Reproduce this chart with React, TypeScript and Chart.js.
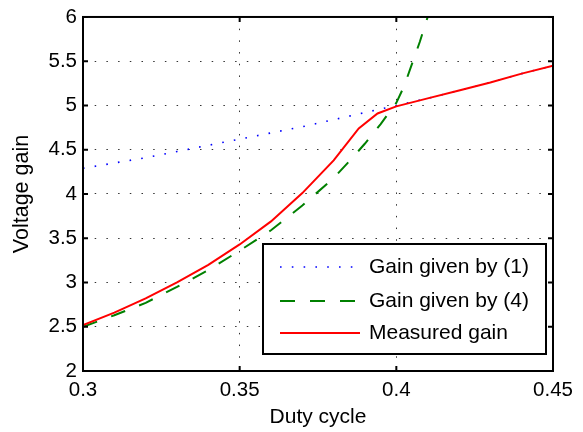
import React, { useEffect, useRef } from "react";
import { Chart, registerables } from "chart.js";

Chart.register(...registerables);

const xTickValues = [0.3, 0.35, 0.4, 0.45];
const xTickLabels = ["0.3", "0.35", "0.4", "0.45"];
const yTickValues = [2, 2.5, 3, 3.5, 4, 4.5, 5, 5.5, 6];
const yTickLabels = ["2", "2.5", "3", "3.5", "4", "4.5", "5", "5.5", "6"];

const seriesLabels = ["Gain given by (1)", "Gain given by (4)", "Measured gain"];

const dutyEq1 = [0.3, 0.31, 0.32, 0.33, 0.34, 0.35, 0.36, 0.37, 0.38, 0.39, 0.4, 0.41, 0.42, 0.43, 0.44, 0.45];
const gainEq1 = [4.29, 4.35, 4.41, 4.48, 4.55, 4.62, 4.69, 4.76, 4.84, 4.92, 5.0, 5.08, 5.17, 5.26, 5.36, 5.45];

const dutyEq4 = [0.3, 0.31, 0.32, 0.33, 0.34, 0.35, 0.36, 0.37, 0.38, 0.385, 0.39, 0.395, 0.4, 0.4025, 0.405, 0.4075, 0.41];
const gainEq4 = [2.5, 2.63, 2.77, 2.95, 3.14, 3.36, 3.59, 3.87, 4.18, 4.37, 4.57, 4.79, 5.03, 5.22, 5.47, 5.72, 6.0];

const dutyMeasured = [0.3, 0.31, 0.32, 0.33, 0.34, 0.35, 0.36, 0.37, 0.38, 0.388, 0.394, 0.4, 0.41, 0.42, 0.43, 0.44, 0.45];
const gainMeasured = [2.52, 2.66, 2.82, 3.0, 3.2, 3.43, 3.69, 4.01, 4.38, 4.74, 4.91, 4.99, 5.08, 5.17, 5.26, 5.36, 5.45];

const FONT = "'Liberation Sans', Arial, Helvetica, sans-serif";

const toPoints = (xs: number[], ys: number[]) => xs.map((x, i) => ({ x, y: ys[i] }));

const framePlugin = {
  id: "matlabFrame",
  afterDatasetsDraw(chart: any) {
    const { ctx, chartArea } = chart;
    const { left, right, top, bottom } = chartArea;
    const xs = chart.scales.x;
    const ys = chart.scales.y;
    const tl = 5;
    ctx.save();
    ctx.strokeStyle = "#000";
    ctx.lineWidth = 2;
    ctx.setLineDash([]);
    ctx.beginPath();
    xTickValues.forEach((v) => {
      const px = xs.getPixelForValue(v);
      ctx.moveTo(px, bottom);
      ctx.lineTo(px, bottom - tl);
      ctx.moveTo(px, top);
      ctx.lineTo(px, top + tl);
    });
    yTickValues.forEach((v) => {
      const py = ys.getPixelForValue(v);
      ctx.moveTo(left, py);
      ctx.lineTo(left + tl, py);
      ctx.moveTo(right, py);
      ctx.lineTo(right - tl, py);
    });
    ctx.stroke();
    ctx.strokeRect(left, top, right - left, bottom - top);
    ctx.restore();
  },
  afterDraw(chart: any) {
    const { ctx, chartArea } = chart;
    const boxW = 283;
    const boxH = 110;
    const bx = chartArea.right - 7 - boxW;
    const by = chartArea.bottom - 17 - boxH;
    ctx.save();
    ctx.fillStyle = "#fff";
    ctx.fillRect(bx, by, boxW, boxH);
    ctx.strokeStyle = "#000";
    ctx.lineWidth = 2;
    ctx.setLineDash([]);
    ctx.strokeRect(bx, by, boxW, boxH);
    const rowY = [23, 57, 89];
    chart.data.datasets.forEach((ds: any, i: number) => {
      const y = by + rowY[i];
      ctx.save();
      ctx.strokeStyle = ds.borderColor;
      ctx.lineWidth = ds.borderWidth;
      ctx.setLineDash(ds.borderDash || []);
      ctx.beginPath();
      ctx.moveTo(bx + 17, y);
      ctx.lineTo(bx + 97, y);
      ctx.stroke();
      ctx.restore();
      ctx.fillStyle = "#000";
      ctx.font = `21px ${FONT}`;
      ctx.textBaseline = "middle";
      ctx.textAlign = "left";
      ctx.fillText(ds.label, bx + 106, y);
    });
    ctx.restore();
  },
};

export default function App() {
  const canvasRef = useRef<HTMLCanvasElement | null>(null);

  useEffect(() => {
    const canvas = canvasRef.current;
    if (!canvas) return;
    const chart = new Chart(canvas, {
      type: "line",
      data: {
        datasets: [
          {
            label: seriesLabels[0],
            data: toPoints(dutyEq1, gainEq1),
            borderColor: "#0000ff",
            borderWidth: 1.6,
            borderDash: [1.6, 10.2],
            pointRadius: 0,
            tension: 0,
            fill: false,
            order: 2,
          },
          {
            label: seriesLabels[1],
            data: toPoints(dutyEq4, gainEq4),
            borderColor: "#008000",
            borderWidth: 2,
            borderDash: [15, 15],
            pointRadius: 0,
            tension: 0,
            fill: false,
            order: 1,
          },
          {
            label: seriesLabels[2],
            data: toPoints(dutyMeasured, gainMeasured),
            borderColor: "#ff0000",
            borderWidth: 2,
            pointRadius: 0,
            tension: 0,
            fill: false,
            order: 0,
          },
        ],
      },
      options: {
        responsive: false,
        animation: false,
        devicePixelRatio: 1,
        layout: { padding: { left: 0, top: 11, right: 30, bottom: 0 } },
        plugins: {
          legend: { display: false },
          tooltip: { enabled: false },
        },
        scales: {
          x: {
            type: "linear",
            min: 0.3,
            max: 0.45,
            afterBuildTicks: (scale: any) => {
              scale.ticks = xTickValues.map((v) => ({ value: v }));
            },
            afterFit: (scale: any) => {
              scale.height = 61;
            },
            ticks: {
              padding: 8,
              color: "#000",
              maxRotation: 0,
              autoSkip: false,
              font: { family: FONT, size: 20.5, lineHeight: 1.07 },
              callback: (v: any) => {
                const i = xTickValues.findIndex((t) => Math.abs(t - Number(v)) < 1e-9);
                return i >= 0 ? xTickLabels[i] : "";
              },
            },
            grid: { color: "#333", lineWidth: 1, drawTicks: false },
            border: { display: false, dash: [1.5, 10.2] },
            title: {
              display: true,
              text: "Duty cycle",
              color: "#000",
              font: { family: FONT, size: 21 },
              padding: { top: 0, bottom: 2 },
            },
          },
          y: {
            type: "linear",
            min: 2,
            max: 6,
            afterBuildTicks: (scale: any) => {
              scale.ticks = yTickValues.map((v) => ({ value: v }));
            },
            afterFit: (scale: any) => {
              scale.width = 83;
            },
            ticks: {
              padding: 6,
              color: "#000",
              autoSkip: false,
              font: { family: FONT, size: 20.5, lineHeight: 1.07 },
              callback: (v: any) => {
                const i = yTickValues.findIndex((t) => Math.abs(t - Number(v)) < 1e-9);
                return i >= 0 ? yTickLabels[i] : "";
              },
            },
            grid: { color: "#333", lineWidth: 1, drawTicks: false },
            border: { display: false, dash: [1.5, 10.2] },
            title: {
              display: true,
              text: "Voltage gain",
              color: "#000",
              font: { family: FONT, size: 21.5 },
              padding: { top: 9, bottom: 0 },
            },
          },
        },
      },
      plugins: [framePlugin],
    } as any);
    return () => chart.destroy();
  }, []);

  return (
    <div style={{ position: "absolute", left: 0, top: 0, width: 583, height: 432, background: "#fff" }}>
      <canvas ref={canvasRef} width={583} height={432} style={{ display: "block" }} />
    </div>
  );
}
